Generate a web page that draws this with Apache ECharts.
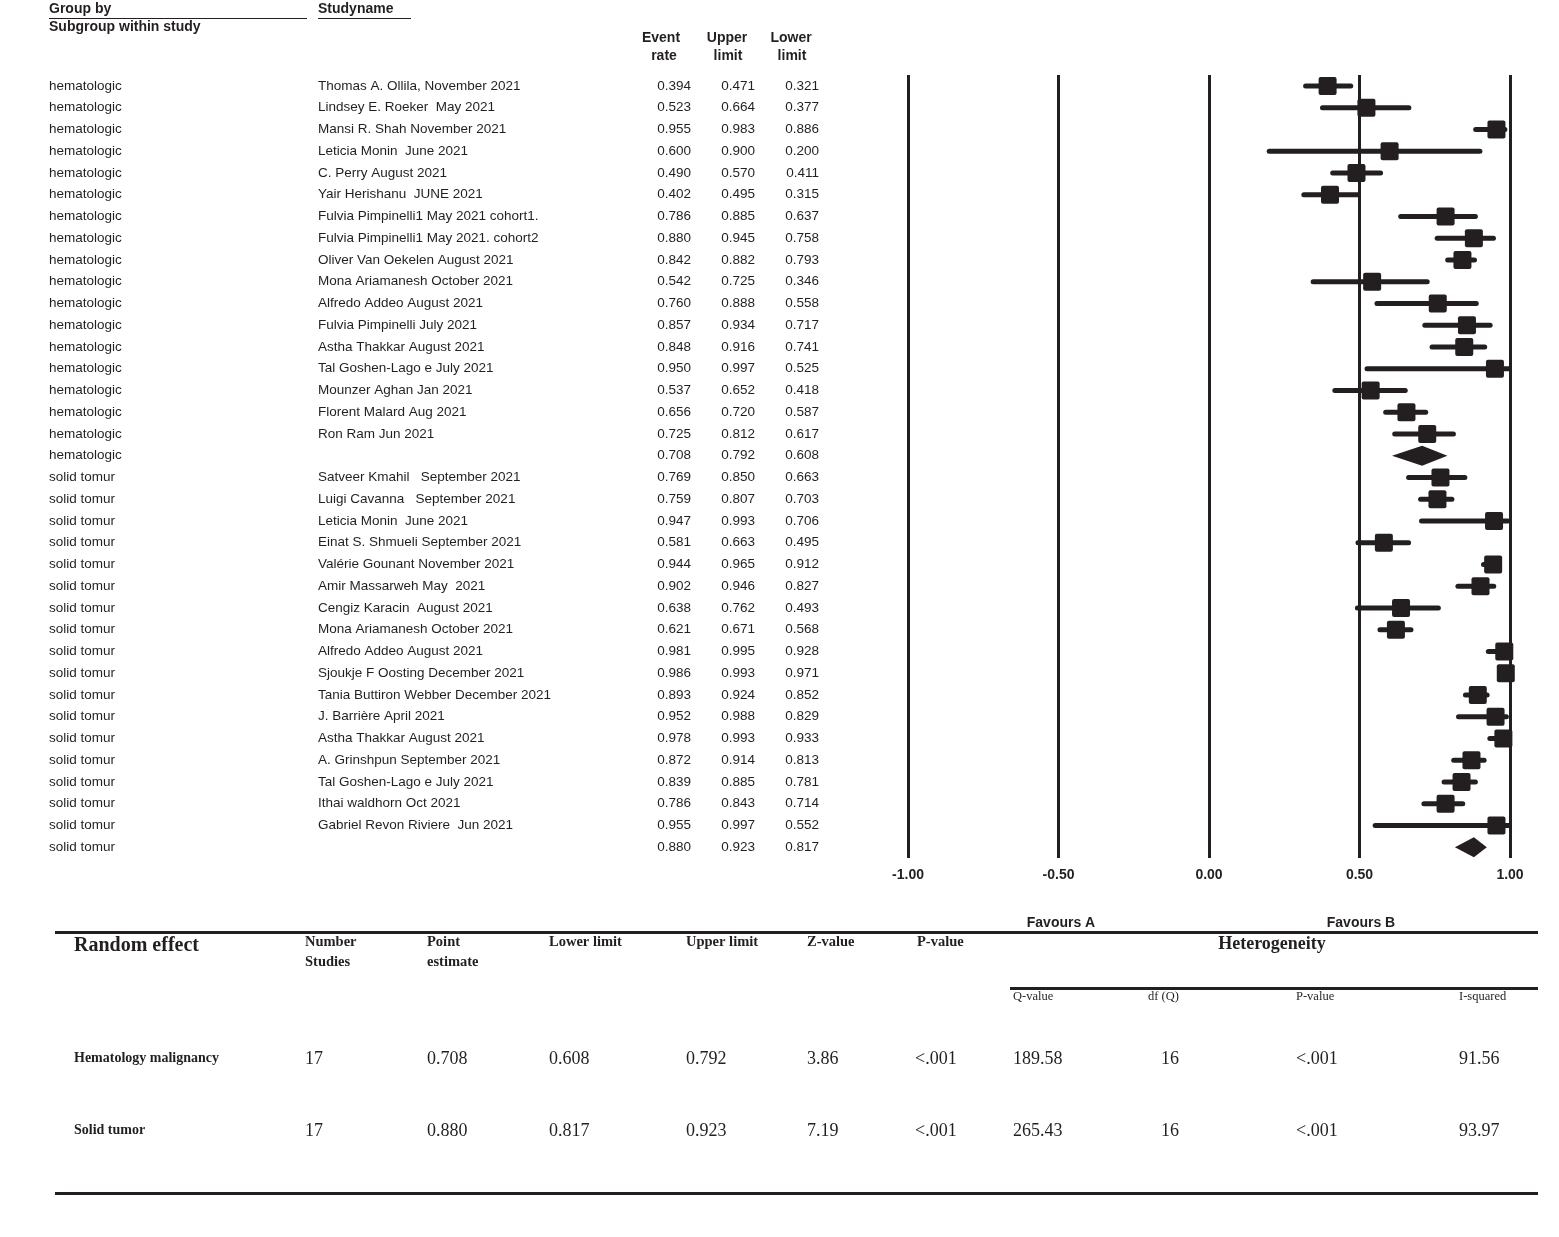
<!DOCTYPE html>
<html>
<head>
<meta charset="utf-8">
<script src="https://cdn.jsdelivr.net/npm/echarts@6/dist/echarts.min.js"></script>
<style>
html,body{margin:0;padding:0;background:#fff;}
#chart{width:1559px;height:1237px;}
</style>
</head>
<body>
<div id="chart"></div>
<script>
// ---------- data ----------
const groups = [
  'hematologic','hematologic','hematologic','hematologic','hematologic','hematologic',
  'hematologic','hematologic','hematologic','hematologic','hematologic','hematologic',
  'hematologic','hematologic','hematologic','hematologic','hematologic','hematologic',
  'solid tomur','solid tomur','solid tomur','solid tomur','solid tomur','solid tomur',
  'solid tomur','solid tomur','solid tomur','solid tomur','solid tomur','solid tomur',
  'solid tomur','solid tomur','solid tomur','solid tomur','solid tomur','solid tomur'
];
const studies = [
  'Thomas A. Ollila, November 2021',
  'Lindsey E. Roeker  May 2021',
  'Mansi R. Shah November 2021',
  'Leticia Monin  June 2021',
  'C. Perry August 2021',
  'Yair Herishanu  JUNE 2021',
  'Fulvia Pimpinelli1 May 2021 cohort1.',
  'Fulvia Pimpinelli1 May 2021. cohort2',
  'Oliver Van Oekelen August 2021',
  'Mona Ariamanesh October 2021',
  'Alfredo Addeo August 2021',
  'Fulvia Pimpinelli July 2021',
  'Astha Thakkar August 2021',
  'Tal Goshen-Lago e July 2021',
  'Mounzer Aghan Jan 2021',
  'Florent Malard Aug 2021',
  'Ron Ram Jun 2021',
  '',
  'Satveer Kmahil   September 2021',
  'Luigi Cavanna   September 2021',
  'Leticia Monin  June 2021',
  'Einat S. Shmueli September 2021',
  'Valérie Gounant November 2021',
  'Amir Massarweh May  2021',
  'Cengiz Karacin  August 2021',
  'Mona Ariamanesh October 2021',
  'Alfredo Addeo August 2021',
  'Sjoukje F Oosting December 2021',
  'Tania Buttiron Webber December 2021',
  'J. Barrière April 2021',
  'Astha Thakkar August 2021',
  'A. Grinshpun September 2021',
  'Tal Goshen-Lago e July 2021',
  'Ithai waldhorn Oct 2021',
  'Gabriel Revon Riviere  Jun 2021',
  ''
];
const eventRate = [
  0.394,0.523,0.955,0.600,0.490,0.402,0.786,0.880,0.842,0.542,0.760,0.857,0.848,0.950,0.537,0.656,0.725,0.708,
  0.769,0.759,0.947,0.581,0.944,0.902,0.638,0.621,0.981,0.986,0.893,0.952,0.978,0.872,0.839,0.786,0.955,0.880
];
const upperLimit = [
  0.471,0.664,0.983,0.900,0.570,0.495,0.885,0.945,0.882,0.725,0.888,0.934,0.916,0.997,0.652,0.720,0.812,0.792,
  0.850,0.807,0.993,0.663,0.965,0.946,0.762,0.671,0.995,0.993,0.924,0.988,0.993,0.914,0.885,0.843,0.997,0.923
];
const lowerLimit = [
  0.321,0.377,0.886,0.200,0.411,0.315,0.637,0.758,0.793,0.346,0.558,0.717,0.741,0.525,0.418,0.587,0.617,0.608,
  0.663,0.703,0.706,0.495,0.912,0.827,0.493,0.568,0.928,0.971,0.852,0.829,0.933,0.813,0.781,0.714,0.552,0.817
];
const summaryRows = [17, 35];
const axisTicks = [-1, -0.5, 0, 0.5, 1];

const tableHeaders = [['Number','Studies'],['Point','estimate'],['Lower limit'],['Upper limit'],['Z-value'],['P-value']];
const hetHeaders = ['Q-value','df (Q)','P-value','I-squared'];
const tableRowNames = ['Hematology malignancy','Solid tumor'];
const tableRows = [
  ['17','0.708','0.608','0.792','3.86','<.001','189.58','16','<.001','91.56'],
  ['17','0.880','0.817','0.923','7.19','<.001','265.43','16','<.001','93.97']
];

// ---------- chart ----------
const INK = '#231f20';
const SANS = 'Liberation Sans, Arial, sans-serif';
const SERIF = 'Liberation Serif, Times New Roman, serif';
const chart = echarts.init(document.getElementById('chart'), null, {renderer: 'canvas'});

const rowIdx = studies.map((_, i) => i);
const markData = rowIdx.map(i => [i, eventRate[i], lowerLimit[i], upperLimit[i]]);
const textData = rowIdx.map(i => [i, eventRate[i]]);

function renderMarks(params, api) {
  const i = api.value(0);
  const est = api.value(1), lo = api.value(2), hi = api.value(3);
  const pE = api.coord([est, i]);
  const pL = api.coord([lo, i]);
  const pH = api.coord([hi, i]);
  const y = pE[1];
  if (summaryRows.indexOf(i) >= 0) {
    return {
      type: 'polygon',
      shape: {points: [[pL[0], y], [pE[0], y - 10], [pH[0], y], [pE[0], y + 10]]},
      style: {fill: INK}
    };
  }
  return {
    type: 'group',
    children: [
      {type: 'line', shape: {x1: pL[0], y1: y, x2: pH[0], y2: y},
       style: {stroke: INK, lineWidth: 5, lineCap: 'round'}},
      {type: 'rect', shape: {x: pE[0] - 9, y: y - 9, width: 18, height: 18, r: 2},
       style: {fill: INK}}
    ]
  };
}

function renderText(params, api) {
  const i = api.value(0);
  const y = api.coord([0, i])[1];
  const font = '13.5px ' + SANS;
  const mk = (x, txt, align) => ({
    type: 'text', x: x, y: y,
    style: {text: txt, font: font, fill: INK, align: align, verticalAlign: 'middle'}
  });
  return {
    type: 'group',
    children: [
      mk(49, groups[i], 'left'),
      mk(318, studies[i], 'left'),
      mk(691, eventRate[i].toFixed(3), 'right'),
      mk(755, upperLimit[i].toFixed(3), 'right'),
      mk(819, lowerLimit[i].toFixed(3), 'right')
    ]
  };
}

// header + bottom table graphics
const g = [];
function txt(x, y, s, font, align, va) {
  g.push({type: 'text', x: x, y: y, silent: true,
    style: {text: s, font: font, fill: INK, align: align || 'left', verticalAlign: va || 'middle'}});
}
function hline(x1, x2, y, w) {
  g.push({type: 'line', silent: true, shape: {x1: x1, y1: y, x2: x2, y2: y}, style: {stroke: INK, lineWidth: w}});
}
const HB = 'bold 14px ' + SANS;
txt(49, 9, 'Group by', HB);
hline(49, 307, 18.5, 1);
txt(318, 9, 'Studyname', HB);
hline(318, 411, 18.5, 1);
txt(49, 27, 'Subgroup within study', HB);
txt(661, 38, 'Event', HB, 'center'); txt(664, 56, 'rate', HB, 'center');
txt(727, 38, 'Upper', HB, 'center'); txt(728, 56, 'limit', HB, 'center');
txt(791, 38, 'Lower', HB, 'center'); txt(792, 56, 'limit', HB, 'center');
txt(1061, 923, 'Favours A', HB, 'center');
txt(1361, 923, 'Favours B', HB, 'center');

hline(55, 1538, 932.5, 3);
hline(1010, 1538, 988.5, 3);
hline(55, 1538, 1193.5, 3);
txt(74, 946, 'Random effect', 'bold 20px ' + SERIF);
const colX = [305, 427, 549, 686, 807, 917];
tableHeaders.forEach((h, k) => {
  h.forEach((line, j) => txt(colX[k], 942 + j * 20, line, 'bold 14.5px ' + SERIF));
});
txt(1272, 944, 'Heterogeneity', 'bold 18px ' + SERIF, 'center');
const hetX = [1013, 1148, 1296, 1459];
hetHeaders.forEach((h, k) => txt(hetX[k], 997, h, '12.5px ' + SERIF));
const valX = [305, 427, 549, 686, 807, 915, 1013, 1161, 1296, 1459];
const rowY = [1059, 1131];
tableRowNames.forEach((n, r) => {
  txt(74, rowY[r] - 1, n, 'bold 14px ' + SERIF);
  tableRows[r].forEach((v, k) => txt(valX[k], rowY[r], v, '18px ' + SERIF));
});

chart.setOption({
  animation: false,
  backgroundColor: '#fff',
  grid: {left: 908, right: 49, top: 75, height: 783, containLabel: false},
  xAxis: {
    type: 'value', min: -1, max: 1, interval: 0.5,
    axisLine: {show: false}, axisTick: {show: false},
    splitLine: {show: true, lineStyle: {color: INK, width: 3}},
    axisLabel: {
      margin: 10, color: INK, fontFamily: SANS, fontWeight: 'bold', fontSize: 14,
      formatter: v => axisTicks.indexOf(v) >= 0 ? v.toFixed(2) : ''
    }
  },
  yAxis: {
    type: 'category', inverse: true, data: rowIdx,
    axisLine: {show: false}, axisTick: {show: false}, axisLabel: {show: false},
    splitLine: {show: false}
  },
  series: [
    {type: 'custom', data: markData, encode: {x: [1, 2, 3], y: 0},
     renderItem: renderMarks, clip: false, silent: true},
    {type: 'custom', data: textData, encode: {x: 1, y: 0},
     renderItem: renderText, clip: false, silent: true}
  ],
  graphic: {elements: g}
});
</script>
</body>
</html>
